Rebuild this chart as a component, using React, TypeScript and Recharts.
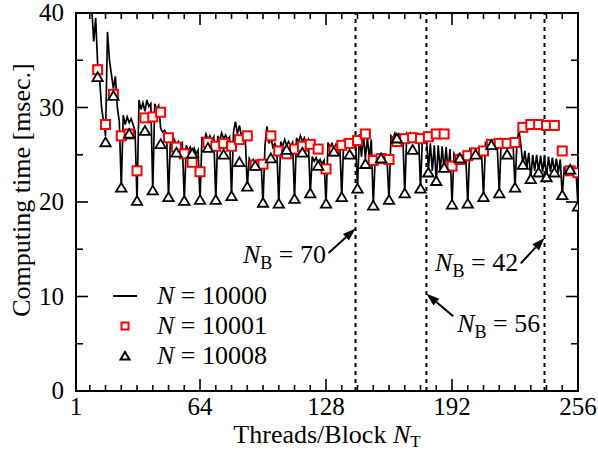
import React from 'react';
import { LineChart, Line, XAxis, YAxis, ReferenceLine, ReferenceArea, ReferenceDot, Legend } from 'recharts';

const FONT = '"Liberation Serif", "Times New Roman", Times, serif';
const PLOT_TOP = 13;
const PLOT_RIGHT = 578;

// Threads/Block for the N = 10000 curve (every value from 8 to 256)
const ntLine: number[] = [];
for (let nt = 8; nt <= 256; nt++) ntLine.push(nt);

// Computing time [msec.] for N = 10000
const timeN10000 = [
  41.5, 40.5, 37, 39.5, 34.5, 33, 30, 28.5,
  27, 38, 35, 33.5, 32, 33.3, 30, 28.5,
  21.5, 29.2, 28.2, 29, 28.4, 28.8, 28.2, 27.5,
  20.1, 30.8, 29.8, 30.5, 29.6, 30.8, 30.1, 30.4,
  21.2, 30.4, 29.8, 30.2, 27.8, 27.4, 27.6, 27.2,
  20.5, 26.8, 26.2, 26.6, 26.0, 26.4, 25.8, 26.2,
  20.1, 26.0, 25.4, 25.8, 25.2, 25.7, 25.1, 25.5,
  20.2, 26.9, 26.4, 27.2, 26.6, 27.0, 26.5, 26.9,
  20.2, 27.0, 26.5, 27.3, 26.7, 27.1, 26.6, 26.9,
  20.6, 27.4, 28.5, 27.2, 28.1, 27.0, 27.4, 26.8,
  21.6, 24.6, 24.2, 24.5, 24.0, 24.4, 24.1, 24.3,
  19.9, 26.0, 28.0, 26.2, 26.8, 25.8, 26.2, 25.7,
  19.8, 26.4, 25.9, 26.6, 26.0, 26.4, 25.9, 26.3,
  20.3, 26.8, 26.3, 27.0, 26.4, 26.8, 26.2, 26.6,
  20.9, 24.8, 24.3, 24.7, 24.1, 24.5, 24.0, 24.4,
  19.8, 26.3, 25.8, 26.2, 25.7, 26.1, 25.7, 26.0,
  20.5, 26.6, 26.1, 26.5, 26.0, 26.4, 26.0, 26.3,
  21.6, 27.2, 24.8, 27.0, 24.6, 26.8, 24.6, 26.6,
  19.6, 24.8, 24.4, 24.7, 24.3, 24.6, 24.3, 24.5,
  20.2, 27.0, 26.7, 27.3, 26.8, 27.2, 26.7, 27.0,
  20.9, 27.2, 26.8, 27.3, 26.9, 27.2, 26.8, 27.1,
  21.4, 27.0, 26.6, 26.9, 23.4, 26.2, 23.3, 26.0,
  22.2, 26.0, 23.2, 25.9, 23.3, 25.8, 23.2, 25.6,
  19.7, 25.1, 24.7, 25.0, 24.6, 24.9, 24.5, 24.8,
  19.8, 25.5, 25.1, 25.4, 25.0, 25.3, 24.9, 25.2,
  20.5, 26.2, 25.8, 26.1, 25.7, 26.0, 25.6, 25.9,
  20.9, 26.6, 26.2, 26.5, 26.1, 26.4, 26.0, 26.3,
  21.5, 26.4, 27.6, 26.0, 23.9, 25.4, 23.6, 25.2,
  22.4, 25.0, 23.3, 25.0, 23.2, 24.9, 23.2, 24.8,
  22.6, 24.8, 23.2, 24.7, 23.1, 24.6, 23.1, 24.5,
  20.7, 23.6, 23.3, 23.6, 23.3, 23.5, 23.2, 23.4,
  19.5,
];

// Threads/Block for the marker series (every 4 from 12 to 256)
const ntMarkers: number[] = [];
for (let nt = 12; nt <= 256; nt += 4) ntMarkers.push(nt);

// Computing time [msec.] for N = 10001
const timeN10001 = [
  34.0, 28.2, 31.4, 27.0, 27.2, 23.3, 28.9, 29.0, 29.5, 26.8,
  25.8, 25.1, 24.2, 23.2, 26.3, 25.9, 26.2, 25.9, 26.6, 27.0,
  23.9, 24.0, 27.0, 25.4, 25.1, 25.6, 25.9, 26.1, 25.6, 23.5,
  25.4, 26.0, 26.2, 26.5, 27.2, 24.4, 24.6, 24.5, 26.4, 26.7,
  26.8, 26.7, 26.9, 27.2, 27.2, 23.8, 24.5, 24.9, 25.2, 25.4,
  26.1, 26.2, 26.2, 26.3, 27.9, 28.2, 28.2, 28.1, 28.1, 25.4,
  23.3, 23.1,
];

// Computing time [msec.] for N = 10008
const timeN10008 = [
  33.2, 26.3, 31.2, 21.5, 27.2, 20.1, 27.5, 21.2, 26.1, 20.5,
  25.2, 20.1, 25.1, 20.2, 25.7, 20.2, 25.0, 20.6, 24.2, 21.6,
  23.8, 19.9, 24.6, 19.8, 25.5, 20.3, 25.2, 20.9, 23.8, 19.8,
  25.3, 20.5, 25.0, 21.4, 24.0, 19.6, 24.6, 20.2, 26.7, 20.9,
  25.5, 21.4, 23.1, 22.2, 23.6, 19.7, 24.6, 19.8, 25.0, 20.5,
  26.0, 20.9, 25.0, 21.5, 23.9, 22.4, 23.1, 22.6, 23.1, 20.7,
  23.4, 19.5,
];

const xTicks: number[] = [1];
for (let v = 8; v <= 256; v += 8) xTicks.push(v);
const yTicks = [0, 5, 10, 15, 20, 25, 30, 35, 40];

// N_B boundaries (Threads/Block)
const nbBoundaries = [143, 179, 239];

// annotations: label, text anchor point, arrow from -> to (data coordinates)
const annotations = [
  { nb: '70', tx: 128.0, ty: 13.5, ax1: 129.3, ay1: 14.6, ax2: 143, ay2: 17.2 },
  { nb: '42', tx: 225.6, ty: 12.7, ax1: 226.9, ay1: 13.5, ax2: 239, ay2: 16.2 },
  { nb: '56', tx: 236.8, ty: 6.2, ax1: 192.6, ay1: 7.9, ax2: 179, ay2: 10.3 },
];

const lineData = ntLine.map((nt, i) => ({ nt, t: timeN10000[i] }));
const sqData = ntMarkers.map((nt, i) => ({ nt, t: timeN10001[i] }));
const triData = ntMarkers.map((nt, i) => ({ nt, t: timeN10008[i] }));

const XTick = (props: any) => {
  const { x, y, payload } = props;
  const v = payload.value;
  const major = v % 64 === 0;
  const len = major ? 12 : 6;
  const edge = v === 1 || v === 256;
  return (
    <g>
      {!edge && <line x1={x} x2={x} y1={y} y2={y - len} stroke="#000" strokeWidth={1.6} />}
      {!edge && <line x1={x} x2={x} y1={PLOT_TOP} y2={PLOT_TOP + len} stroke="#000" strokeWidth={1.6} />}
      {(major || v === 1) && (
        <text x={x} y={y + 24} textAnchor="middle" fontSize={25} fontFamily={FONT} fill="#000">
          {v}
        </text>
      )}
    </g>
  );
};

const YTick = (props: any) => {
  const { x, y, payload } = props;
  const v = payload.value;
  const major = v % 10 === 0;
  const len = major ? 12 : 7;
  const edge = v === 0 || v === 40;
  return (
    <g>
      {!edge && <line x1={x} x2={x + len} y1={y} y2={y} stroke="#000" strokeWidth={1.6} />}
      {!edge && <line x1={PLOT_RIGHT - len} x2={PLOT_RIGHT} y1={y} y2={y} stroke="#000" strokeWidth={1.6} />}
      {major && (
        <text x={x - 12} y={y + 8} textAnchor="end" fontSize={25} fontFamily={FONT} fill="#000">
          {v}
        </text>
      )}
    </g>
  );
};

const squareDot = (props: any) => {
  const { cx, cy, index } = props;
  if (cx == null || cy == null) return <g key={`s${index}`} />;
  return <rect key={`s${index}`} x={cx - 4.5} y={cy - 4.5} width={9} height={9} fill="#fff" stroke="#ff0000" strokeWidth={2} />;
};

const triangleDot = (props: any) => {
  const { cx, cy, index } = props;
  if (cx == null || cy == null) return <g key={`t${index}`} />;
  const pts = `${cx},${cy - 5} ${cx - 5.2},${cy + 3.8} ${cx + 5.2},${cy + 3.8}`;
  return <polygon key={`t${index}`} points={pts} fill="#fff" stroke="#000" strokeWidth={1.8} strokeLinejoin="miter" />;
};

const arrowShape = (props: any) => {
  const { x1, y1, x2, y2 } = props;
  const ang = Math.atan2(y2 - y1, x2 - x1);
  const L = 13;
  const W = 4.5;
  const bx = x2 - L * Math.cos(ang);
  const by = y2 - L * Math.sin(ang);
  const px = -Math.sin(ang) * W;
  const py = Math.cos(ang) * W;
  return (
    <g>
      <line x1={x1} y1={y1} x2={bx} y2={by} stroke="#000" strokeWidth={2} />
      <polygon points={`${x2},${y2} ${bx + px},${by + py} ${bx - px},${by - py}`} fill="#000" />
    </g>
  );
};

const nbLabel = (nb: string) => (props: any) => {
  const { cx, cy } = props;
  return (
    <text x={cx} y={cy} textAnchor="end" fontSize={26} fontFamily={FONT} fill="#000">
      <tspan fontStyle="italic">N</tspan>
      <tspan fontSize={18} dy={6}>B</tspan>
      <tspan dy={-6}>{' = ' + nb}</tspan>
    </text>
  );
};

const legendItems = [
  { key: 'l', label: '10000' },
  { key: 's', label: '10001' },
  { key: 't', label: '10008' },
];

const LegendContent = () => (
  <div style={{ fontFamily: FONT, fontSize: 26, color: '#000' }}>
    {legendItems.map((it) => (
      <div key={it.key} style={{ display: 'flex', alignItems: 'center', height: 30, whiteSpace: 'nowrap', fontFamily: FONT }}>
        <svg width={40} height={30} style={{ display: 'block' }}>
          {it.key === 'l' && <line x1={8} x2={32} y1={15} y2={15} stroke="#000" strokeWidth={2} />}
          {it.key === 's' && <rect x={16.5} y={11.5} width={7} height={7} fill="#fff" stroke="#ff0000" strokeWidth={2} />}
          {it.key === 't' && <polygon points="20,11 15.5,18.5 24.5,18.5" fill="#fff" stroke="#000" strokeWidth={2} />}
        </svg>
        <span style={{ marginLeft: 12, lineHeight: '30px', fontFamily: FONT, fontSize: 26 }}>
          <i style={{ fontFamily: FONT }}>N</i> = {it.label}
        </span>
      </div>
    ))}
  </div>
);

export default function App() {
  return (
    <div style={{ position: 'absolute', left: 0, top: 0, background: '#fff' }}>
      <LineChart width={598} height={450} margin={{ top: PLOT_TOP, right: 20, bottom: 0, left: 0 }}>
        <XAxis
          dataKey="nt"
          type="number"
          domain={[1, 256]}
          ticks={xTicks}
          interval={0}
          allowDataOverflow
          axisLine={false}
          tickLine={false}
          tickSize={0}
          tickMargin={0}
          height={59}
          tick={<XTick />}
          label={(p: any) => {
            const vb = p.viewBox || {};
            return (
              <text x={vb.x + vb.width / 2} y={vb.y + 52} textAnchor="middle" fontSize={26} fontFamily={FONT} fill="#000">
                {'Threads/Block '}
                <tspan fontStyle="italic">N</tspan>
                <tspan fontSize={17} dy={4}>T</tspan>
              </text>
            );
          }}
        />
        <YAxis
          type="number"
          domain={[0, 40]}
          ticks={yTicks}
          interval={0}
          allowDataOverflow
          axisLine={false}
          tickLine={false}
          tickSize={0}
          tickMargin={0}
          width={76}
          tick={<YTick />}
          label={(p: any) => {
            const vb = p.viewBox || {};
            const cx = vb.x + 30;
            const cy = vb.y + vb.height / 2 - 12;
            return (
              <text transform={`translate(${cx},${cy}) rotate(-90)`} textAnchor="middle" fontSize={26} fontFamily={FONT} fill="#000">
                Computing time [msec.]
              </text>
            );
          }}
        />
        <ReferenceArea x1={1} x2={256} y1={0} y2={40} fill="none" stroke="#000" strokeWidth={2} />
        {nbBoundaries.map((nb) => (
          <ReferenceLine key={nb} x={nb} stroke="#000" strokeWidth={2} strokeDasharray="4 4" />
        ))}
        <Line data={lineData} dataKey="t" stroke="#000" strokeWidth={1.7} dot={false} activeDot={false} isAnimationActive={false} type="linear" />
        <Line data={sqData} dataKey="t" stroke="none" dot={squareDot} activeDot={false} isAnimationActive={false} />
        <Line data={triData} dataKey="t" stroke="none" dot={triangleDot} activeDot={false} isAnimationActive={false} />
        {annotations.map((a) => (
          <ReferenceLine
            key={'a' + a.nb}
            segment={[{ x: a.ax1, y: a.ay1 }, { x: a.ax2, y: a.ay2 }]}
            stroke="#000"
            shape={arrowShape}
          />
        ))}
        {annotations.map((a) => (
          <ReferenceDot key={'t' + a.nb} x={a.tx} y={a.ty} r={0} shape={nbLabel(a.nb)} />
        ))}
        <Legend
          layout="horizontal"
          verticalAlign="middle"
          align="center"
          content={<LegendContent />}
          wrapperStyle={{ left: 105, top: 281, width: 'auto', height: 'auto', fontFamily: FONT }}
        />
      </LineChart>
    </div>
  );
}
